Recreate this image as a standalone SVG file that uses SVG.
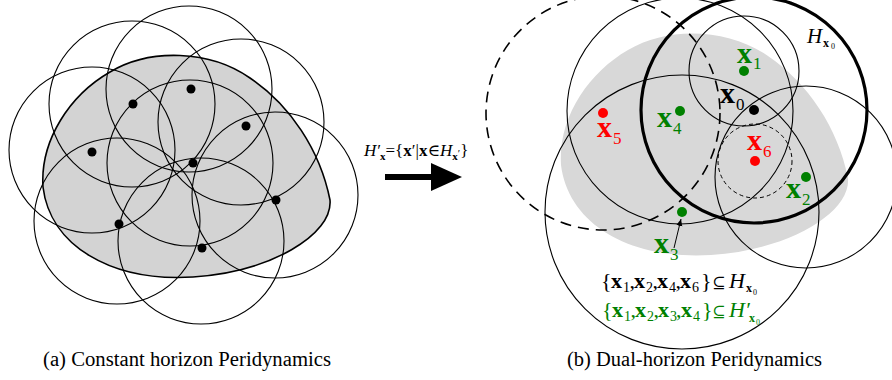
<svg xmlns="http://www.w3.org/2000/svg" width="892" height="380" viewBox="0 0 892 380">
<style>
.t{font-family:"Liberation Serif","DejaVu Serif",serif;}
.hor{fill:none;stroke:#000;stroke-width:1.1;}
.thick{fill:none;stroke:#000;stroke-width:3.2;}
.dash{fill:none;stroke:#000;stroke-width:1.6;stroke-dasharray:11 7;}
.sdash{fill:none;stroke:#000;stroke-width:1;stroke-dasharray:4 3;}
.lx{font-weight:bold;font-size:30px;}
.ls{font-size:17px;}
.g{fill:#008000;}
.r{fill:#ff0000;}
.k{fill:#000;}
.bx{font-weight:bold;}
.it{font-style:italic;}
</style>
<defs>
<path id="body" d="M 43,187 C 40,140 70,95 110,72 C 150,48 210,50 250,78 C 290,105 320,150 330,200 C 333,235 270,272 193,277 C 110,282 50,245 43,187 Z"/>
<marker id="ah" markerWidth="8" markerHeight="8" refX="7" refY="4" orient="auto" markerUnits="userSpaceOnUse">
<path d="M0,1 L7,4 L0,7 Z" fill="#000"/>
</marker>
</defs>
<rect width="892" height="380" fill="#fff"/>

<g id="panel-a">
<use href="#body" fill="#d3d3d3" stroke="#000" stroke-width="1.6"/>
<g id="horizons-a">
<circle class="hor" cx="132" cy="104" r="83"/>
<circle class="hor" cx="189" cy="89" r="83"/>
<circle class="hor" cx="241" cy="122" r="83"/>
<circle class="hor" cx="92" cy="150" r="83"/>
<circle class="hor" cx="190" cy="163" r="83"/>
<circle class="hor" cx="275" cy="195" r="83"/>
<circle class="hor" cx="117" cy="221" r="83"/>
<circle class="hor" cx="201" cy="241" r="83"/>
</g>
<g id="points-a" fill="#000">
<circle cx="133" cy="104" r="4.5"/>
<circle cx="191" cy="89" r="4.5"/>
<circle cx="246" cy="126" r="4.5"/>
<circle cx="92" cy="152" r="4.5"/>
<circle cx="193" cy="163" r="4.5"/>
<circle cx="276" cy="200" r="4.5"/>
<circle cx="119" cy="224" r="4.5"/>
<circle cx="202" cy="248" r="4.5"/>
</g>
<text class="t" x="43" y="366" font-size="20" textLength="288" lengthAdjust="spacingAndGlyphs">(a) Constant horizon Peridynamics</text>
</g>

<g id="panel-b">
<use href="#body" transform="translate(518,-22)" fill="#d8d8d8"/>
<circle class="dash" cx="603" cy="113" r="117"/>
<circle class="hor" cx="680" cy="111" r="113"/>
<circle class="hor" cx="744" cy="71" r="55"/>
<circle class="hor" cx="682" cy="212" r="137"/>
<circle class="hor" cx="806" cy="177" r="91"/>
<circle class="sdash" cx="755" cy="161" r="37"/>
<circle class="thick" cx="754" cy="110" r="113"/>

<g id="x0"><circle cx="754" cy="110" r="5" fill="#000"/>
<text class="t k"><tspan class="lx" x="720" y="103">x</tspan><tspan class="ls" x="736" y="110">0</tspan></text></g>
<g id="x1"><circle cx="744" cy="71" r="5" fill="#008000"/>
<text class="t g"><tspan class="lx" x="737" y="63">x</tspan><tspan class="ls" x="753" y="69">1</tspan></text></g>
<g id="x2"><circle cx="806" cy="177" r="5" fill="#008000"/>
<text class="t g"><tspan class="lx" x="786" y="198">x</tspan><tspan class="ls" x="802" y="205">2</tspan></text></g>
<g id="x3"><circle cx="682" cy="212" r="5" fill="#008000"/>
<text class="t g"><tspan class="lx" x="654" y="253">x</tspan><tspan class="ls" x="670" y="260">3</tspan></text></g>
<g id="x4"><circle cx="680" cy="111" r="5" fill="#008000"/>
<text class="t g"><tspan class="lx" x="657" y="127">x</tspan><tspan class="ls" x="673" y="134">4</tspan></text></g>
<g id="x5"><circle cx="603" cy="113" r="5" fill="#ff0000"/>
<text class="t r"><tspan class="lx" x="597" y="137">x</tspan><tspan class="ls" x="613" y="144">5</tspan></text></g>
<g id="x6"><circle cx="755" cy="161" r="5" fill="#ff0000"/>
<text class="t r"><tspan class="lx" x="747" y="150">x</tspan><tspan class="ls" x="763" y="157">6</tspan></text></g>

<g id="label-H">
<text class="t k"><tspan class="it" x="807" y="43" font-size="21">H</tspan><tspan class="bx" x="823" y="47" font-size="12">x</tspan><tspan x="831" y="49" font-size="8">0</tspan></text>
</g>

<g id="set1">
<text class="t k" font-size="22"><tspan x="601" y="288">{</tspan><tspan class="bx" x="611" y="288">x</tspan><tspan x="623" y="292" font-size="14">1</tspan><tspan x="629.5" y="288">,</tspan><tspan class="bx" x="634" y="288">x</tspan><tspan x="646" y="292" font-size="14">2</tspan><tspan x="652.5" y="288">,</tspan><tspan class="bx" x="657" y="288">x</tspan><tspan x="669" y="292" font-size="14">4</tspan><tspan x="675.5" y="288">,</tspan><tspan class="bx" x="680" y="288">x</tspan><tspan x="692" y="292" font-size="14">6</tspan><tspan x="701" y="288">}</tspan><tspan x="712" y="288" font-size="16">⊆</tspan><tspan class="it" x="729" y="288">H</tspan><tspan class="bx" x="746" y="292" font-size="12">x</tspan><tspan x="753" y="295" font-size="8">0</tspan></text>
</g>
<g id="set2">
<text class="t g" font-size="22"><tspan x="602" y="317">{</tspan><tspan class="bx" x="612" y="317">x</tspan><tspan x="624" y="321" font-size="14">1</tspan><tspan x="630.5" y="317">,</tspan><tspan class="bx" x="635" y="317">x</tspan><tspan x="647" y="321" font-size="14">2</tspan><tspan x="653.5" y="317">,</tspan><tspan class="bx" x="658" y="317">x</tspan><tspan x="670" y="321" font-size="14">3</tspan><tspan x="676" y="317">,</tspan><tspan class="bx" x="681" y="317">x</tspan><tspan x="693" y="321" font-size="14">4</tspan><tspan x="702" y="317">}</tspan><tspan x="712" y="317" font-size="16">⊆</tspan><tspan class="it" x="729" y="317">H′</tspan><tspan class="bx" x="749" y="322" font-size="12">x</tspan><tspan x="756" y="325" font-size="8">0</tspan></text>
</g>
<text class="t" x="567" y="366" font-size="20" textLength="255" lengthAdjust="spacingAndGlyphs">(b) Dual-horizon Peridynamics</text>
</g>

<g id="connectors">
<line x1="674" y1="248" x2="681" y2="219" stroke="#000" stroke-width="1" marker-end="url(#ah)"/>
<g id="map-arrow">
<rect x="385" y="174" width="48" height="6" fill="#000"/>
<path d="M431,163 L462,177 L431,191 Z" fill="#000"/>
<text class="t k" x="364" y="156" font-size="17"><tspan class="it">H′</tspan><tspan class="bx" y="160" font-size="11">x</tspan><tspan y="156">={</tspan><tspan class="bx">x</tspan><tspan>′|</tspan><tspan class="bx">x</tspan><tspan>∈</tspan><tspan class="it">H</tspan><tspan class="bx" y="160" font-size="11">x</tspan><tspan y="157" font-size="11">′</tspan><tspan y="156">}</tspan></text>
</g>
</g>
</svg>
